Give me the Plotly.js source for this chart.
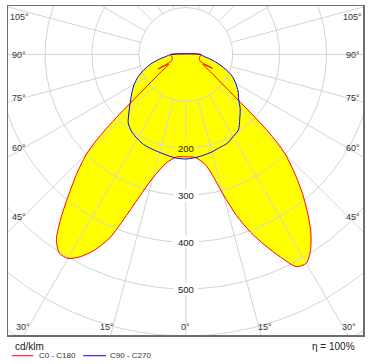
<!DOCTYPE html>
<html><head><meta charset="utf-8">
<script src="https://cdn.plot.ly/plotly-3.0.1.min.js"></script>
<style>html,body{margin:0;padding:0;background:#fff}#chart{width:372px;height:364px}</style>
</head><body><div id="chart"></div>
<script>
// ---- data (cd/klm) ----
const gammaRed = [0,5,10,12.5,15,17.5,20,22.5,25,27.5,30,32.5,35,37.5,40,42.5,44,45,46,47,48,50,55,60,62.5,65,70,75,80,85,90];
const redC180 = [218,219,234,250,273,308,360,423,460,486,502,502,481,436,387,344,317,299,270,232,190,122,65,42,67,34,31,30,30,31,32];
const redC0   = [218,220,238,264,310,360,403,440,476,510,514,495,465,427,387,344,317,299,272,234,190,120,64,42,64,34,31,30,30,31,32];
const gammaBlue = [0,5,10,15,20,25,30,35,40,45,50,55,60,65,70,75,80,85,90];
const blueC270 = [223,222,219,216,214,212,207,201,191,171,154,140,127,112,95,77,57,41,32];
const blueC90  = [223,221,218,215,211,209,202,196,179,164,147,136,123,109,89,69,51,37,32];
const ringValues = [100,200,300,400,500,600,700,800];
const ringLabels = [200,300,400,500];
const spokeAngles = [0,15,30,45,60,75,90,105,120,135,150,165,180,195,210,225,240,255,270,285,300,315,330,345];
const sideLabelAngles = [105,90,75,60,45];
const bottomLabelAngles = [30,15,0];
const seriesNames = ['C0 - C180','C90 - C270'];
const seriesColors = ['#ff0000','#0000ff'];

// ---- geometry ----
const K = 0.469;               // px per cd/klm
const plotW = 355, plotH = 329;
const cxPx = 177.8, cyPx = 48.5; // centre offset inside plot area
const xRange = [-cxPx / K, (plotW - cxPx) / K];
const yRange = [-(plotH - cyPx) / K, cyPx / K];
const rad = d => d * Math.PI / 180;

function outline(gL, vL, gR, vR) {
  const x = [], y = [];
  for (let i = gL.length - 1; i >= 0; i--) { x.push(-vL[i] * Math.sin(rad(gL[i]))); y.push(-vL[i] * Math.cos(rad(gL[i]))); }
  for (let i = 0; i < gR.length; i++) { x.push(vR[i] * Math.sin(rad(gR[i]))); y.push(-vR[i] * Math.cos(rad(gR[i]))); }
  x.push(x[0]); y.push(y[0]);
  return {x, y};
}
const red = outline(gammaRed, redC180, gammaRed, redC0);
const blue = outline(gammaBlue, blueC270, gammaBlue, blueC90);

// grid with gaps behind ring labels
const gapW = 11 / K, gapH = 6 / K;
const gx = [], gy = [];
ringValues.forEach(r => {
  let open = false;
  for (let d = 0; d <= 360; d += 1) {
    const x = r * Math.sin(rad(d)), y = -r * Math.cos(rad(d));
    if (ringLabels.includes(r) && Math.abs(x) < gapW && y < 0) { if (open) { gx.push(null); gy.push(null); open = false; } continue; }
    gx.push(x); gy.push(y); open = true;
  }
  gx.push(null); gy.push(null);
});
spokeAngles.forEach(a => {
  let open = false;
  for (let r = 100; r <= 800; r += 1) {
    if (a === 0 && ringLabels.some(l => Math.abs(r - l) < gapH)) { if (open) { gx.push(null); gy.push(null); open = false; } continue; }
    gx.push(r * Math.sin(rad(a))); gy.push(-r * Math.cos(rad(a))); open = true;
  }
  gx.push(null); gy.push(null);
});

const FONT = 'Liberation Sans, Arial, sans-serif';
const SM = 0.7;
const traces = [
  {x: red.x, y: red.y, mode: 'lines', fill: 'toself', fillcolor: '#ffff00', line: {width: 0, shape: 'spline', smoothing: SM}, showlegend: false, hoverinfo: 'skip'},
  {x: blue.x, y: blue.y, mode: 'lines', fill: 'toself', fillcolor: '#ffff00', line: {width: 0, shape: 'spline', smoothing: SM}, showlegend: false, hoverinfo: 'skip'},
  {x: gx, y: gy, mode: 'lines', line: {color: '#d4d4d4', width: 1}, showlegend: false, hoverinfo: 'skip'},
  {x: red.x, y: red.y, mode: 'lines', name: seriesNames[0], line: {color: seriesColors[0], width: 1, shape: 'spline', smoothing: SM}, showlegend: false},
  {x: blue.x, y: blue.y, mode: 'lines', name: seriesNames[1], line: {color: seriesColors[1], width: 1, shape: 'spline', smoothing: SM}, showlegend: false}
];

const ann = [];
const sideX = 355.5, sideLineX = 346, maxY = (cyPx - 11) / K;
sideLabelAngles.forEach(a => {
  let y = -sideLineX * Math.cos(rad(a)) / Math.sin(rad(a));
  y = Math.min(y, maxY);
  [-1, 1].forEach(s => ann.push({x: s * sideX, y, xref: 'x', yref: 'y', text: a + '°', showarrow: false,
    font: {family: FONT, size: 9, color: '#333'}, xanchor: 'center', yanchor: 'middle'}));
});
const bottomY = -(plotH - cyPx - 8.3) / K;
bottomLabelAngles.forEach(a => {
  const xl = -bottomY * Math.tan(rad(a));
  (a === 0 ? [1] : [-1, 1]).forEach(s => ann.push({x: s * xl, y: bottomY, xref: 'x', yref: 'y', text: a + '°', showarrow: false,
    xshift: a === 0 ? 0 : s * 6, font: {family: FONT, size: 9, color: '#333'}, xanchor: 'center', yanchor: 'middle'}));
});
ringLabels.forEach(r => ann.push({x: 0, y: -r, xref: 'x', yref: 'y', text: String(r), showarrow: false,
  font: {family: FONT, size: 9.5, color: '#222'}, xanchor: 'center', yanchor: 'middle'}));
ann.push({x: 0.013, y: -0.034, xref: 'paper', yref: 'paper', text: 'cd/klm', showarrow: false, xanchor: 'left', yanchor: 'middle',
  font: {family: FONT, size: 10, color: '#222'}});
ann.push({x: 0.984, y: -0.034, xref: 'paper', yref: 'paper', text: 'η = 100%', showarrow: false, xanchor: 'right', yanchor: 'middle',
  font: {family: FONT, size: 10, color: '#222'}});

// manual legend (key lines + names)
const legY = -0.063;
const legItems = [{x0: 0.0104, x1: 0.0713, tx: 0.0808}, {x0: 0.212, x1: 0.276, tx: 0.2817}];
const shapes = legItems.map((it, i) => ({type: 'line', xref: 'paper', yref: 'paper', x0: it.x0, x1: it.x1, y0: legY, y1: legY,
  line: {color: seriesColors[i], width: 1}}));
legItems.forEach((it, i) => ann.push({x: it.tx, y: legY, xref: 'paper', yref: 'paper', text: seriesNames[i], showarrow: false,
  xanchor: 'left', yanchor: 'middle', font: {family: FONT, size: 8, color: '#333'}}));

const axisBase = {showgrid: false, zeroline: false, showticklabels: false, ticks: '', showline: true, mirror: true,
  linecolor: '#6e6e6e', linewidth: 1.5, fixedrange: true};
const layout = {
  width: 372, height: 364,
  margin: {l: 8, r: 9, t: 6, b: 29, pad: 0},
  paper_bgcolor: '#ffffff', plot_bgcolor: '#ffffff',
  xaxis: Object.assign({range: xRange}, axisBase),
  yaxis: Object.assign({range: yRange}, axisBase),
  showlegend: false,
  annotations: ann,
  shapes: shapes
};
Plotly.newPlot('chart', traces, layout, {displayModeBar: false, staticPlot: true});
</script></body></html>
